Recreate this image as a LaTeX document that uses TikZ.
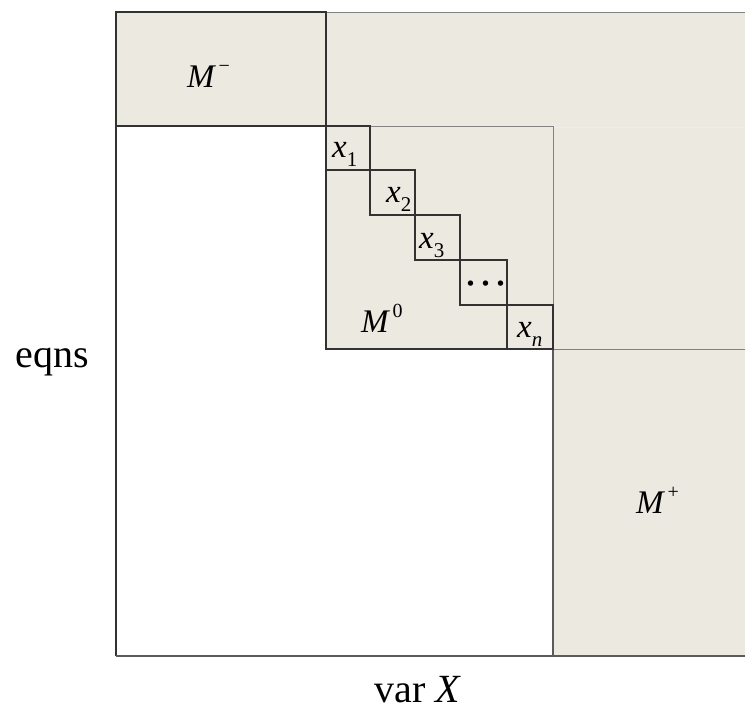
\documentclass[tikz,border=0pt]{standalone}
\usepackage{fontspec}
\setmainfont{Liberation Serif}
\definecolor{beige}{RGB}{235,233,224}
\definecolor{darkline}{RGB}{50,50,50}
\definecolor{greyline}{RGB}{130,130,130}
\newcommand{\supr}[1]{\kern4pt\raisebox{0.45em}{\fontsize{20}{20}\selectfont #1}}
\newcommand{\subr}[1]{\raisebox{-0.28em}{\fontsize{21}{21}\selectfont #1}}
\begin{document}
\begin{tikzpicture}[x=1pt,y=-1pt,
  dark/.style={draw=darkline,line width=1.6pt},
  thin/.style={draw=greyline,line width=1pt},
  faint/.style={draw=white!85!gray,line width=1pt},
  area/.style={fill=beige,draw=none},
  lbl/.style={anchor=base west,inner sep=0pt,font=\fontsize{33}{38}\selectfont},
  axis/.style={anchor=base,inner sep=0pt,font=\fontsize{40}{46}\selectfont}]
\useasboundingbox (0,0) rectangle (745,712);
% shaded areas
\fill[area] (116,12) rectangle (745,126);
\fill[area] (326,126) rectangle (745,349);
\fill[area] (553,349) rectangle (745,656);
% thin grey lines
\draw[thin] (326,12) -- (745,12);
\draw[thin] (326,12) -- (326,126);
\draw[thin] (326,126) -- (553,126) -- (553,305);
\draw[thin] (553,349) -- (745,349);
\draw[faint] (554,127) -- (745,127);
% dark lines
\draw[dark] (116,12) rectangle (326,126);
\draw[dark] (116,126) -- (116,656);
\draw[dark,draw=darkline!80!white] (116,656) -- (745,656);
\draw[dark,draw=darkline!80!white] (553,349) -- (553,656);
\draw[dark] (326,126) -- (326,349) -- (553,349);
% staircase
\draw[dark] (326,126) rectangle (370,170);
\draw[dark] (370,170) rectangle (415,215);
\draw[dark] (415,215) rectangle (460,260);
\draw[dark] (460,260) rectangle (507,305);
\draw[dark] (507,305) rectangle (553,349);
% labels
\node[lbl] (mminus) at (187,87) {\itshape M\upshape\supr{−}};
\node[lbl] (mzero) at (361,332) {\itshape M\upshape\supr{0}};
\node[lbl] (mplus) at (636,513) {\itshape M\upshape\supr{+}};
\node[lbl] (x1) at (332,157) {\itshape x\upshape\subr{1}};
\node[lbl] (x2) at (386,202) {\itshape x\upshape\subr{2}};
\node[lbl] (x3) at (419,248) {\itshape x\upshape\subr{3}};
\node[lbl] (dots) at (465,294) {\bfseries ·\kern4pt·\kern4pt·};
\node[lbl] (xn) at (517,337) {\itshape x\subr{n}};
\node[axis] (eqns) at (52,367) {eqns};
\node[axis] (varx) at (417,702) {var \itshape X};
\end{tikzpicture}
\end{document}
